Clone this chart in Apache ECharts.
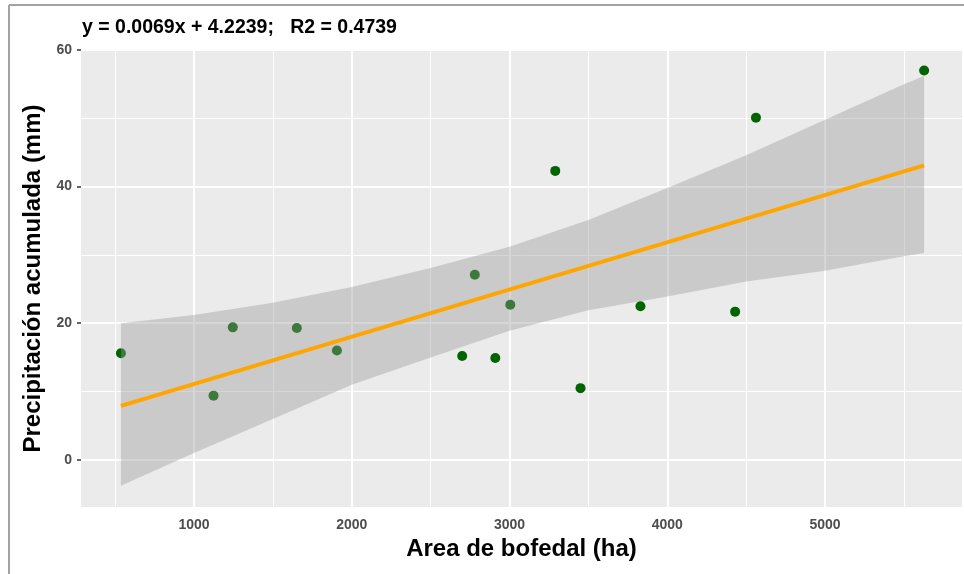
<!DOCTYPE html>
<html>
<head>
<meta charset="utf-8">
<script src="https://cdn.jsdelivr.net/npm/echarts@6/dist/echarts.min.js"></script>
<style>
    html, body {margin: 0; padding: 0; background: #fff;}
    #main {width: 964px; height: 574px;}
</style>
</head>
<body>
<div id="main"></div>
<script>
// puntos observados
let areaX = [537, 1124, 1246, 1652, 1906, 2700, 2780, 2910, 3005, 3290, 3450, 3830, 4430, 4562, 5628];
let precY = [15.6, 9.4, 19.4, 19.3, 16.0, 15.2, 27.1, 14.9, 22.7, 42.3, 10.5, 22.5, 21.7, 50.1, 57.0];

// recta de regresion (extremos)
let lineX = [537, 5628];
let lineY = [7.9, 43.1];

// banda de confianza
let bandX = [537, 1000, 1500, 2000, 2500, 3000, 3500, 4000, 4500, 5000, 5500, 5628];
let bandUp = [20.0, 21.2, 23.0, 25.3, 28.1, 31.2, 35.1, 39.8, 44.6, 49.8, 55.0, 56.2];
let bandLow = [-3.8, 1.0, 6.0, 11.0, 15.0, 18.9, 21.9, 23.9, 26.1, 27.7, 29.8, 30.3];

// marcas de los ejes
let xTicks = [1000, 2000, 3000, 4000, 5000];
let xMinor = [500, 1500, 2500, 3500, 4500, 5500];
let yTicks = [0, 20, 40, 60];
let yMinor = [10, 30, 50];

let myChart = echarts.init(document.getElementById('main'));

let gridLines = [];
xTicks.forEach(function (v) { gridLines.push({xAxis: v, lineStyle: {width: 2}}); });
xMinor.forEach(function (v) { gridLines.push({xAxis: v, lineStyle: {width: 1}}); });
yTicks.forEach(function (v) { gridLines.push({yAxis: v, lineStyle: {width: 2}}); });
yMinor.forEach(function (v) { gridLines.push({yAxis: v, lineStyle: {width: 1}}); });

let points = areaX.map(function (x, i) { return [x, precY[i]]; });
let fitLine = lineX.map(function (x, i) { return [x, lineY[i]]; });

let labelStyle = {
    color: '#4D4D4D',
    fontSize: 14,
    fontWeight: 'bold',
    fontFamily: 'Liberation Sans, Arial, sans-serif',
    formatter: function (v) { return String(v); }
};
let nameStyle = {
    color: '#000',
    fontSize: 24,
    fontWeight: 'bold',
    fontFamily: 'Liberation Sans, Arial, sans-serif'
};

let option = {
    animation: false,
    backgroundColor: '#fff',
    title: {
        text: 'y = 0.0069x + 4.2239;   R2 = 0.4739',
        left: 77,
        top: 13,
        textStyle: {
            color: '#000',
            fontSize: 19.5,
            fontWeight: 'bold',
            fontFamily: 'Liberation Sans, Arial, sans-serif'
        }
    },
    graphic: [
        {type: 'line', shape: {x1: 9, y1: 5, x2: 964, y2: 5}, style: {stroke: '#A3A3A3', lineWidth: 2}, z: 100},
        {type: 'line', shape: {x1: 9, y1: 5, x2: 9, y2: 574}, style: {stroke: '#A3A3A3', lineWidth: 2}, z: 100}
    ],
    grid: {
        left: 81,
        right: 2,
        top: 50,
        bottom: 67,
        show: true,
        backgroundColor: '#EBEBEB',
        borderWidth: 0
    },
    xAxis: {
        type: 'value',
        min: 284,
        max: 5868,
        name: 'Area de bofedal (ha)',
        nameLocation: 'middle',
        nameGap: 30,
        nameTextStyle: nameStyle,
        axisLine: {show: false},
        axisTick: {show: true, customValues: xTicks, length: 4, lineStyle: {color: '#333', width: 1.5}},
        axisLabel: Object.assign({customValues: xTicks, margin: 11}, labelStyle),
        splitLine: {show: false}
    },
    yAxis: {
        type: 'value',
        min: -6.9,
        max: 60,
        name: 'Precipitación acumulada (mm)',
        nameLocation: 'middle',
        nameGap: 36,
        nameTextStyle: nameStyle,
        axisLine: {show: false},
        axisTick: {show: true, customValues: yTicks, length: 4, lineStyle: {color: '#333', width: 1.5}},
        axisLabel: Object.assign({customValues: yTicks, margin: 9}, labelStyle),
        splitLine: {show: false}
    },
    series: [
        {
            // lineas de la grilla
            type: 'line',
            data: [],
            z: 1,
            markLine: {
                silent: true,
                z: 1,
                symbol: 'none',
                label: {show: false},
                lineStyle: {color: '#FFFFFF', type: 'solid'},
                data: gridLines
            }
        },
        {
            type: 'scatter',
            data: points,
            symbolSize: 10,
            itemStyle: {color: '#006400', opacity: 1},
            z: 2
        },
        {
            // banda de confianza
            type: 'custom',
            data: [[bandX[0], bandUp[0]]],
            z: 3,
            renderItem: function (params, api) {
                let pts = [];
                for (let i = 0; i < bandX.length; i++) {
                    pts.push(api.coord([bandX[i], bandUp[i]]));
                }
                for (let i = bandX.length - 1; i >= 0; i--) {
                    pts.push(api.coord([bandX[i], bandLow[i]]));
                }
                return {
                    type: 'polygon',
                    shape: {points: pts},
                    style: {fill: 'rgba(153,153,153,0.4)'}
                };
            }
        },
        {
            type: 'line',
            data: fitLine,
            showSymbol: false,
            lineStyle: {color: '#FFA500', width: 4},
            z: 4
        }
    ]
};

myChart.setOption(option);
</script>
</body>
</html>
